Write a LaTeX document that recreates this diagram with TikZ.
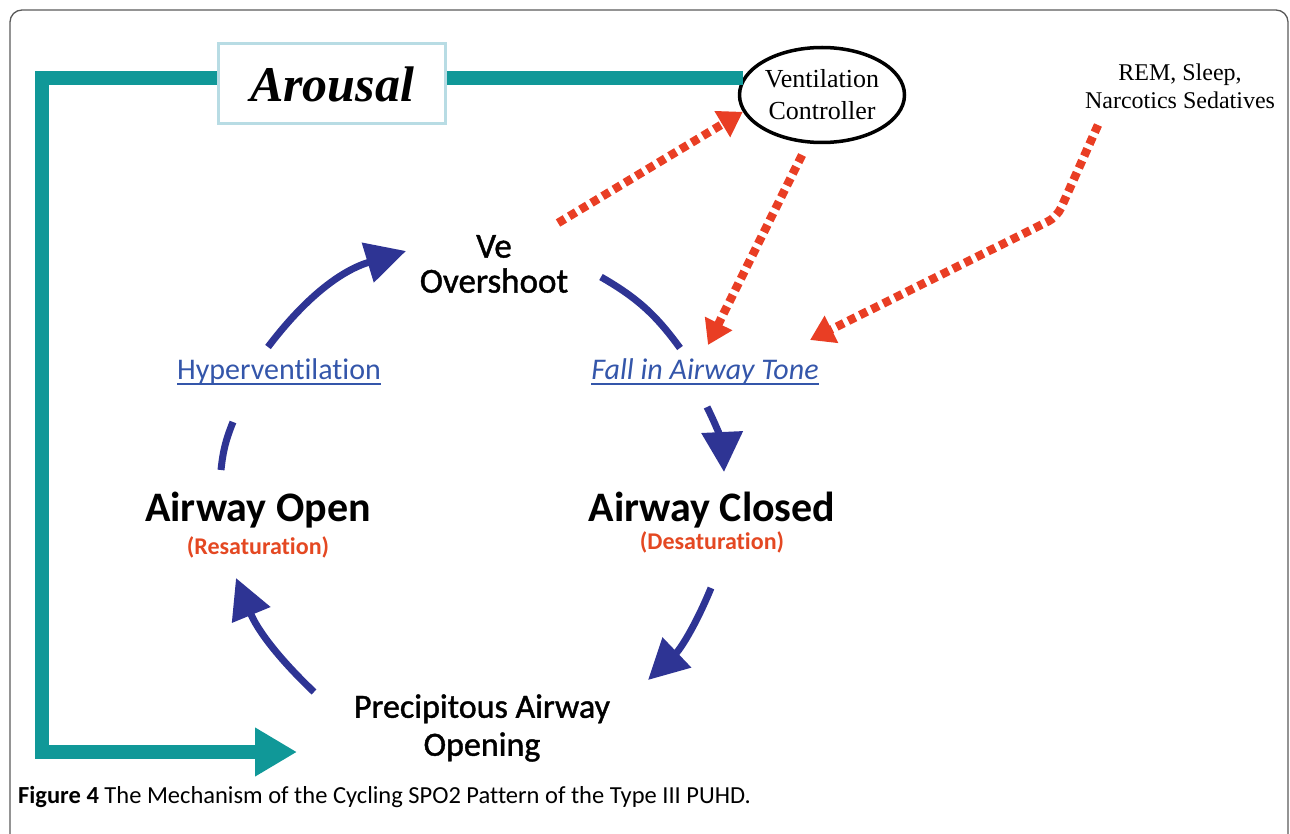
\documentclass[tikz,border=0pt]{standalone}
\usepackage{fontspec}
\setmainfont{Carlito}[Ligatures=NoCommon]
\newfontfamily\semisans{Carlito}[Ligatures=NoCommon, FakeBold=1.2]
\newfontfamily\timesfont{Liberation Serif}
\usetikzlibrary{arrows.meta, positioning, shapes.geometric}

\definecolor{tealline}{RGB}{16,152,152}
\definecolor{cyclenavy}{RGB}{46,52,148}
\definecolor{dotred}{RGB}{233,62,36}
\definecolor{toneblue}{RGB}{52,86,170}
\definecolor{satred}{RGB}{228,72,34}
\definecolor{boxblue}{RGB}{184,220,228}
\definecolor{framegray}{RGB}{90,90,90}

\newsavebox\tonebox
\newcommand\toneline[1]{\sbox\tonebox{#1}\rlap{\rule[-5pt]{\wd\tonebox}{1.6pt}}\usebox\tonebox}

\tikzset{
  phase/.style={inner sep=0pt, font=\bfseries\fontsize{42}{46}\selectfont},
  sat/.style={inner sep=0pt, text=satred, font=\bfseries\fontsize{24}{28}\selectfont},
  tonelabel/.style={inner sep=0pt, text=toneblue, font=\fontsize{30}{32}\selectfont},
  cyclearc/.style={draw=cyclenavy, line width=7pt},
  influence/.style={draw=dotred, line width=8.5pt, dash pattern=on 8pt off 5pt,
    -{Triangle[length=24pt,width=29pt]}},
  arousalline/.style={draw=tealline, line width=14pt, line join=miter,
    -{Triangle[length=42pt,width=46pt]}},
}

\begin{document}
\begin{tikzpicture}[x=1pt, y=-1pt]
\useasboundingbox (0,0) rectangle (1290,834);
\clip (0,0) rectangle (1290,834);

\draw[framegray, line width=1.3pt, rounded corners=12pt] (10,10) rectangle (1288,870);

\node[draw, ellipse, line width=3.5pt, minimum width=165pt, minimum height=95pt,
  inner sep=0pt, align=center, font=\timesfont\fontsize{26}{32}\selectfont]
  (ventctl) at (822,95) {Ventilation\\Controller};

\coordinate (tl) at (42,80);
\coordinate (bl) at (42,752);
\coordinate (tealtip) at (297,752);
\draw[arousalline] (ventctl.168) -- (ventctl.168 -| tl) -- (bl) -- (tealtip);

\node[draw=boxblue, fill=white, line width=3pt, minimum width=227pt, minimum height=80pt,
  font=\timesfont\bfseries\itshape\fontsize{50}{50}\selectfont] (arousal) at (332,84) {Arousal};

\node[align=center, font=\timesfont\fontsize{24}{28}\selectfont] (rem) at (1180,86)
  {REM, Sleep,\\Narcotics Sedatives};

% cycle labels
\node[align=center, inner sep=0pt, font=\semisans\fontsize{35}{35}\selectfont] (ve) at (494,264) {Ve\\Overshoot};
\node[tonelabel] (hyper) at (279,372) {\toneline{Hyperventilation}};
\node[tonelabel] (fall) at (705,372) {\toneline{\itshape Fall in Airway Tone}};
\node[phase] (aopen) at (258,510) {Airway Open};
\node[sat, below = 8pt of aopen] (resat) {(Resaturation)};
\node[phase] (aclosed) at (712,510) {Airway Closed};
\node[sat, below = 3pt of aclosed] (desat) {(Desaturation)};
\node[align=center, inner sep=0pt, font=\semisans\fontsize{34}{38}\selectfont] (precip) at (482,728)
  {Precipitous Airway\\Opening};

% cycle arcs
\coordinate (a1) at (221,470); \coordinate (a2) at (233,422);
\coordinate (b1) at (268,347); \coordinate (b2) at (406,251);
\coordinate (c1) at (601,277); \coordinate (c2) at (680,348);
\coordinate (d1) at (707,407); \coordinate (d2) at (724,472);
\coordinate (e1) at (711,588); \coordinate (e2) at (648,680);
\coordinate (f1) at (314,692); \coordinate (f2) at (236,578);

\draw[cyclearc] (a1) to[bend left=8] (a2);
\draw[cyclearc, -{Triangle[length=40pt,width=40pt]}] (b1) to[bend left=18] (b2);
\draw[cyclearc] (c1) to[bend left=12] (c2);
\draw[cyclearc, -{Triangle[length=40pt,width=40pt]}] (d1) to[bend left=12] (d2);
\draw[cyclearc, -{Triangle[length=40pt,width=40pt]}] (e1) to[bend left=12] (e2);
\draw[cyclearc, -{Triangle[length=40pt,width=40pt]}] (f1) to[bend left=12] (f2);

% influences
\coordinate (veout) at (558,223);
\coordinate (ctlout) at (802,155);
\coordinate (tonein1) at (708,345);
\coordinate (remout) at (1098,125);
\coordinate (rembend) at (1057,217);
\coordinate (tonein2) at (810,340);
\draw[influence] (veout) -- (ventctl.192);
\draw[influence] (ctlout) -- (tonein1);
\draw[influence, rounded corners=10pt] (remout) -- (rembend) -- (tonein2);

\node[anchor=base west, inner sep=0pt, font=\fontsize{24.5}{27}\selectfont] (caption) at (18,803)
  {\textbf{Figure 4} The Mechanism of the Cycling SPO2 Pattern of the Type III PUHD.};

\end{tikzpicture}
\end{document}
